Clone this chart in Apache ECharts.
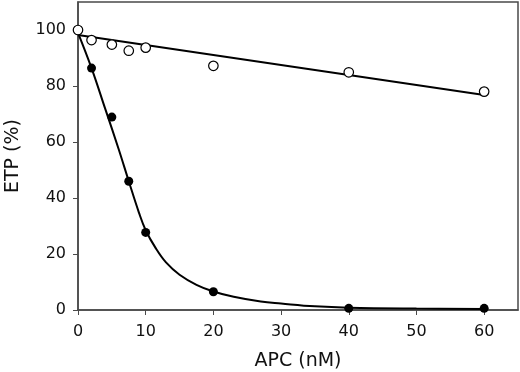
<!DOCTYPE html>
<html>
<head>
<meta charset="utf-8">
<script src="https://cdn.jsdelivr.net/npm/echarts@6/dist/echarts.min.js"></script>
<style>
  html, body { margin: 0; padding: 0; background: #fff; }
  #chart { width: 520px; height: 372px; }
</style>
</head>
<body>
<div id="chart"></div>
<script>
// values
const xTicks = [0, 10, 20, 30, 40, 50, 60];
const yTicks = [0, 20, 40, 60, 80, 100];

const openPoints = [[0, 100], [2, 96.4], [5, 94.8], [7.5, 92.6], [10, 93.7], [20, 87.2], [40, 84.9], [60, 78]];
const filledPoints = [[0, 100], [2, 86.4], [5, 68.9], [7.5, 46], [10, 27.7], [20, 6.5], [40, 0.6], [60, 0.6]];

// fitted lines
const openFit = [[0, 98.2], [60, 76.8]];
const filledFit = [
  [0, 99], [2, 86.4], [4, 72], [6, 57.5], [7.5, 46], [9, 34.8], [10, 28.5],
  [11.5, 22], [13, 17], [15, 12.6], [17.5, 9], [20, 6.6], [23, 4.7], [27, 3.0],
  [30, 2.3], [35, 1.3], [40, 0.8], [50, 0.5], [60, 0.4]
];

const AXIS_COLOR = "#4a4a4a";
const FONT = "DejaVu Sans";

const chart = echarts.init(document.getElementById("chart"));

const option = {
  animation: false,
  grid: {
    left: 78,
    right: 2,
    top: 2,
    bottom: 62,
    outerBoundsMode: "none",
    containLabel: false,
    show: true,
    borderColor: AXIS_COLOR,
    borderWidth: 1.5,
  },
  xAxis: {
    type: "value",
    min: 0,
    max: 65,
    name: "APC (nM)",
    nameLocation: "middle",
    nameGap: 42,
    nameTextStyle: { color: "#111", fontFamily: FONT, fontSize: 19 },
    axisLine: { show: true, onZero: false, lineStyle: { color: AXIS_COLOR, width: 1.5 } },
    axisTick: { show: true, length: 5, customValues: xTicks, lineStyle: { color: AXIS_COLOR } },
    axisLabel: { customValues: xTicks, margin: 14, color: "#111", fontFamily: FONT, fontSize: 16 },
    splitLine: { show: false },
  },
  yAxis: {
    type: "value",
    min: 0,
    max: 110,
    name: "ETP (%)",
    nameLocation: "middle",
    nameGap: 55,
    nameTextStyle: { color: "#111", fontFamily: FONT, fontSize: 19 },
    axisLine: { show: true, onZero: false, lineStyle: { color: AXIS_COLOR, width: 1.5 } },
    axisTick: { show: true, length: 5, customValues: yTicks, lineStyle: { color: AXIS_COLOR } },
    axisLabel: { customValues: yTicks, margin: 12, color: "#111", fontFamily: FONT, fontSize: 16 },
    splitLine: { show: false },
  },
  series: [
    {
      type: "line",
      data: filledFit,
      smooth: 0.4,
      symbol: "none",
      lineStyle: { color: "#000", width: 2 },
      z: 2,
    },
    {
      type: "line",
      data: openFit,
      symbol: "none",
      lineStyle: { color: "#000", width: 2 },
      z: 2,
    },
    {
      type: "scatter",
      data: filledPoints,
      symbol: "circle",
      symbolSize: 9,
      itemStyle: { color: "#000", opacity: 1 },
      z: 3,
    },
    {
      type: "scatter",
      data: openPoints,
      symbol: "circle",
      symbolSize: 9.5,
      itemStyle: { color: "#fff", borderColor: "#000", borderWidth: 1.2, opacity: 1 },
      z: 4,
    },
  ],
};

chart.setOption(option);
</script>
</body>
</html>
